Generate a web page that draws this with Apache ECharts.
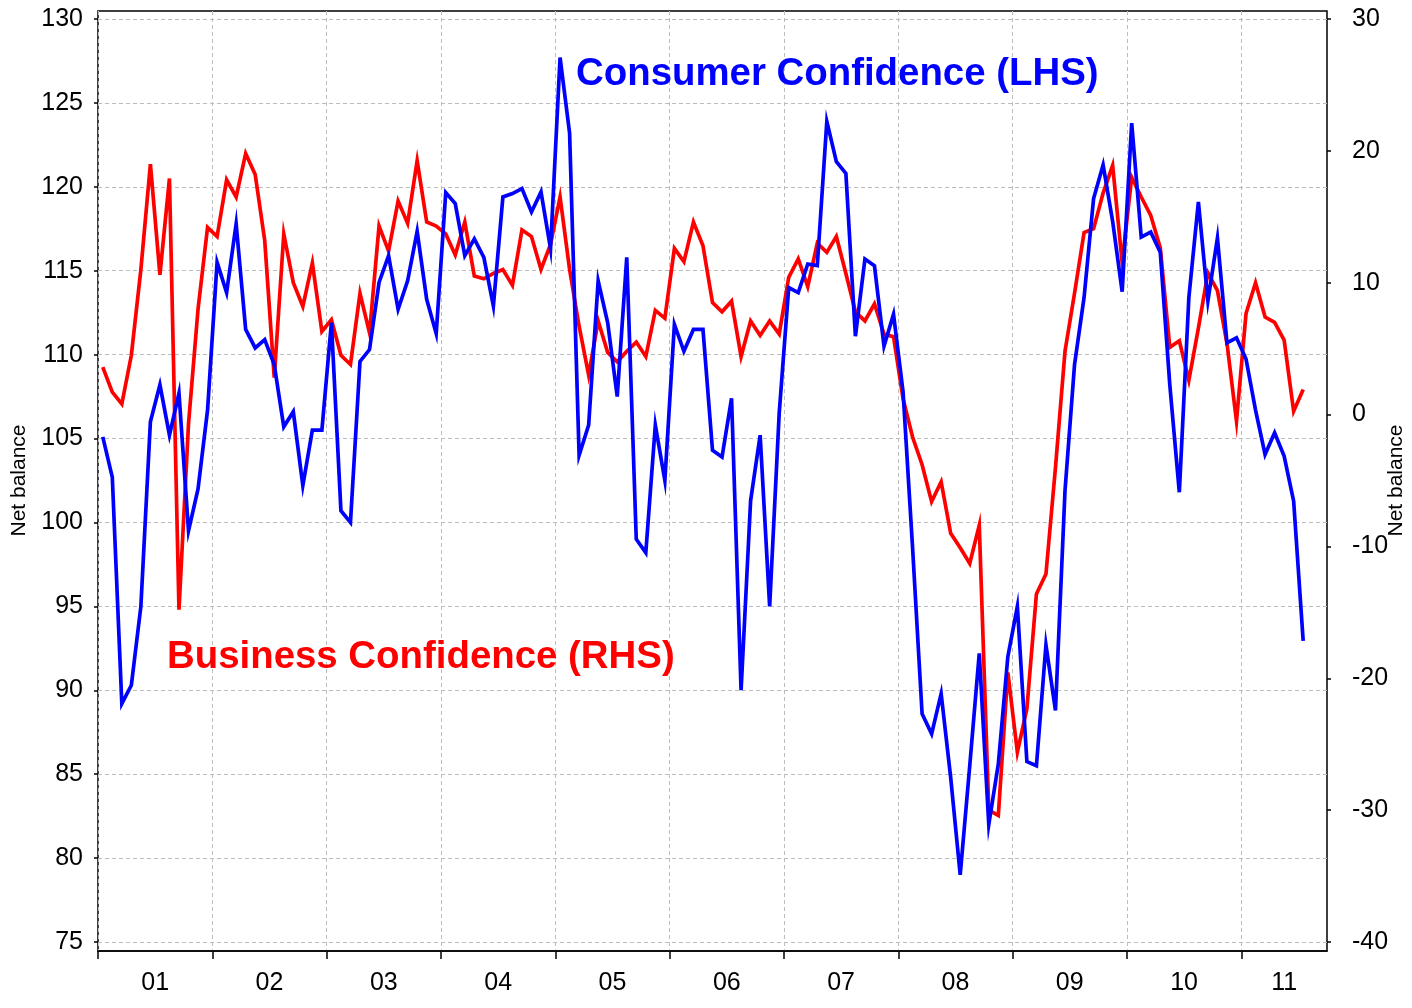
<!DOCTYPE html>
<html>
<head>
<meta charset="utf-8">
<script src="https://cdn.jsdelivr.net/npm/echarts@6/dist/echarts.min.js"></script>
<style>
html,body{margin:0;padding:0;background:#fff;}
#chart{width:1412px;height:1008px;}
</style>
</head>
<body>
<div id="chart"></div>
<script>
// Monthly data, Jan 2001 .. Jul 2011
var yearLabels = ['01','02','03','04','05','06','07','08','09','10','11'];
var monthsOnAxis = 129; // Jan 2001 .. Sep 2011

var consumerConfidence = [
  105.1,102.7,89.2,90.3,95.0,106.0,108.2,105.2,107.7,99.5,102.0,106.7,
  115.5,113.7,117.8,111.5,110.4,110.9,109.4,105.7,106.6,102.2,105.5,105.5,
  111.9,100.7,100.0,109.6,110.3,114.3,115.9,112.7,114.4,117.35,113.3,111.25,
  119.66,119.0,115.9,116.9,115.8,112.9,119.4,119.6,119.9,118.5,119.7,116.3,
  127.7,123.2,104.0,105.8,114.4,111.9,107.5,115.8,99.0,98.2,105.8,102.5,
  111.8,110.2,111.5,111.5,104.3,103.9,107.4,90.0,101.3,105.2,95.0,106.5,
  114.0,113.7,115.4,115.3,123.9,121.5,120.8,111.1,115.7,115.3,110.5,112.4,
  107.8,98.5,88.6,87.4,89.8,84.8,79.0,85.5,92.2,82.0,85.6,92.0,
  95.0,85.75,85.5,92.7,88.8,101.9,109.4,113.4,119.3,121.3,117.95,113.75,
  123.8,117.0,117.3,116.1,108.2,101.8,113.4,119.1,113.2,116.95,110.7,111.0,
  109.74,106.7,104.05,105.34,103.95,101.27,92.94
];

var businessConfidence = [
  3.6,1.7,0.8,4.5,11.0,19.0,10.6,17.9,-14.8,-0.7,8.0,14.2,
  13.5,17.8,16.5,19.8,18.2,13.2,2.8,13.7,10.0,8.2,11.5,6.3,
  7.2,4.5,3.8,9.2,6.2,14.3,12.4,16.2,14.5,19.25,14.6,14.3,
  13.7,12.1,14.6,10.5,10.3,10.7,11.0,9.8,14.0,13.5,11.0,12.9,
  16.5,11.0,6.7,3.0,7.1,4.7,4.0,4.8,5.5,4.4,7.9,7.3,
  12.6,11.6,14.6,12.8,8.5,7.8,8.6,4.4,7.1,6.0,7.1,6.1,
  10.4,11.8,9.7,13.0,12.3,13.5,10.7,7.8,7.1,8.4,6.1,5.9,
  1.2,-1.7,-3.8,-6.6,-5.1,-9.0,-10.1,-11.3,-8.4,-30.0,-30.4,-19.55,
  -25.6,-22.3,-13.6,-12.1,-4.0,4.8,9.2,13.8,14.1,16.8,18.9,11.5,
  18.0,16.5,15.1,12.65,5.1,5.6,2.6,6.55,10.75,9.4,5.4,-0.5,
  7.66,10.0,7.4,7.0,5.65,0.25,1.9
];

var leftTicks = {min: 75, max: 130, step: 5};
var rightTicks = {min: -40, max: 30, step: 10};

function toPoints(arr) {
  return arr.map(function (v, i) { return [i + 0.5, v]; });
}

var yearTickValues = [];
var yearLabelValues = [];
for (var y = 0; y < yearLabels.length; y++) {
  yearTickValues.push(y * 12);
  var end = Math.min(y * 12 + 12, monthsOnAxis);
  yearLabelValues.push((y * 12 + end) / 2);
}

var FONT = 'Liberation Sans, Arial, sans-serif';
var chart = echarts.init(document.getElementById('chart'), null, {renderer: 'canvas'});

chart.setOption({
  animation: false,
  backgroundColor: '#ffffff',
  title: [
    {
      text: 'Consumer Confidence (LHS)',
      left: 576, top: 55, padding: 0,
      textStyle: {color: '#0000ff', fontSize: 38.4, fontWeight: 'bold', fontFamily: FONT}
    },
    {
      text: 'Business Confidence (RHS)',
      left: 167, top: 638, padding: 0,
      textStyle: {color: '#ff0000', fontSize: 38.4, fontWeight: 'bold', fontFamily: FONT}
    }
  ],
  grid: [
    {left: 98, right: 85, top: 11, bottom: 57, outerBoundsMode: 'none', containLabel: false,
     show: true, borderColor: '#000', borderWidth: 1.5, backgroundColor: 'transparent'},
    {left: 98, right: 85, top: 19, bottom: 66, outerBoundsMode: 'none', containLabel: false}
  ],
  xAxis: [
    {
      gridIndex: 0, type: 'value', min: 0, max: monthsOnAxis, interval: 12,
      axisLine: {show: true, lineStyle: {color: '#000', width: 1.5}},
      axisTick: {show: true, inside: false, length: 8, lineStyle: {color: '#000', width: 1.5}, customValues: yearTickValues},
      splitLine: {show: true, lineStyle: {color: '#bdbdbd', type: [4, 3], width: 1}},
      axisLabel: {
        show: true, margin: 20, color: '#000', fontSize: 25, fontFamily: FONT,
        customValues: yearLabelValues,
        formatter: function (v) {
          var idx = Math.floor(v / 12);
          return yearLabels[idx] || '';
        }
      }
    },
    {
      gridIndex: 1, type: 'value', min: 0, max: monthsOnAxis, show: false,
      splitLine: {show: false}
    }
  ],
  yAxis: [
    {gridIndex: 0, type: 'value', min: 0, max: 1, show: false, splitLine: {show: false}},
    {
      gridIndex: 1, type: 'value', position: 'left',
      min: leftTicks.min, max: leftTicks.max, interval: leftTicks.step,
      name: 'Net balance', nameLocation: 'middle', nameRotate: 90, nameGap: 68,
      nameMoveOverlap: false,
      nameTextStyle: {color: '#000', fontSize: 21, fontFamily: FONT},
      axisLine: {show: false},
      axisTick: {show: true, inside: false, length: 4, lineStyle: {color: '#000', width: 1.5}},
      axisLabel: {margin: 15, color: '#000', fontSize: 25, fontFamily: FONT},
      splitLine: {show: true, lineStyle: {color: '#bdbdbd', type: [4, 3], width: 1}}
    },
    {
      gridIndex: 1, type: 'value', position: 'right',
      min: rightTicks.min, max: rightTicks.max, interval: rightTicks.step,
      name: 'Net balance', nameLocation: 'middle', nameRotate: 90, nameGap: 59,
      nameMoveOverlap: false,
      nameTextStyle: {color: '#000', fontSize: 21, fontFamily: FONT},
      axisLine: {show: false},
      axisTick: {show: true, inside: false, length: 4, lineStyle: {color: '#000', width: 1.5}},
      axisLabel: {margin: 25, color: '#000', fontSize: 25, fontFamily: FONT},
      splitLine: {show: false}
    }
  ],
  series: [
    {
      name: 'Business Confidence (RHS)', type: 'line',
      xAxisIndex: 1, yAxisIndex: 2,
      data: toPoints(businessConfidence),
      showSymbol: false, symbol: 'none',
      lineStyle: {color: '#ff0000', width: 3.7, join: 'miter'},
      z: 3
    },
    {
      name: 'Consumer Confidence (LHS)', type: 'line',
      xAxisIndex: 1, yAxisIndex: 1,
      data: toPoints(consumerConfidence),
      showSymbol: false, symbol: 'none',
      lineStyle: {color: '#0000ff', width: 3.7, join: 'miter'},
      z: 4
    }
  ]
});
</script>
</body>
</html>
